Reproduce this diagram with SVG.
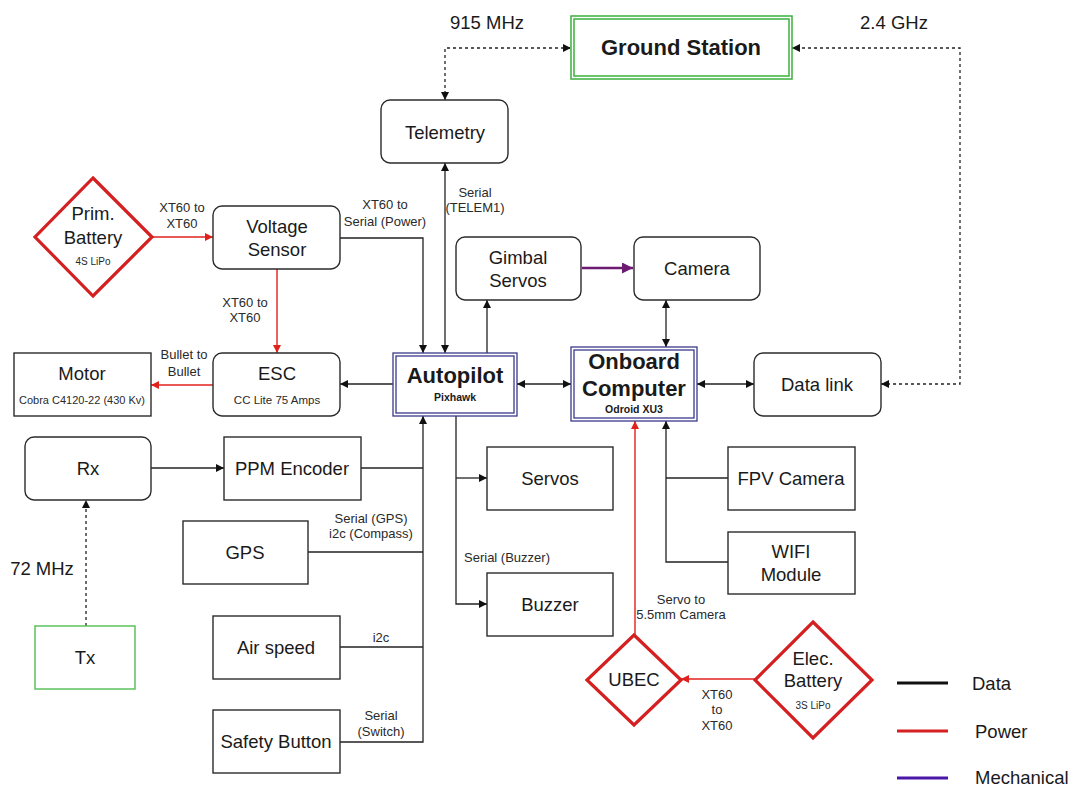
<svg xmlns="http://www.w3.org/2000/svg" width="1073" height="786" viewBox="0 0 1073 786">
<style>
  text { font-family: "Liberation Sans", Arial, sans-serif; fill: #1a1a1a; text-anchor: middle; }
  .t { font-size: 18.5px; }
  .b { font-size: 22px; font-weight: bold; }
  .sb { font-size: 10.5px; font-weight: bold; }
  .s { font-size: 13px; fill: #2a2a2a; }
  .xs { font-size: 11.5px; fill: #2a2a2a; }
  .box { fill: #fff; stroke: #2b2b2b; stroke-width: 1.4; }
  .dia { fill: #fff; stroke: #d42020; stroke-width: 3.2; stroke-linejoin: miter; }
  .blue { fill: none; stroke: #3a3a8c; stroke-width: 1.3; }
  .green { fill: none; stroke: #3bb03b; stroke-width: 1.5; }
  .data { fill: none; stroke: #222; stroke-width: 1.3; }
  .dash { stroke-dasharray: 3 3; }
  .pow { fill: none; stroke: #e0201b; stroke-width: 1.4; }
  .mech { fill: none; stroke: #6d1a72; stroke-width: 2.6; }
</style>
<defs>
  <marker id="ak" viewBox="0 0 10 10" refX="10" refY="5" markerWidth="9" markerHeight="8" markerUnits="userSpaceOnUse" orient="auto-start-reverse">
    <path d="M0,0 L10,5 L0,10 z" fill="#111"/>
  </marker>
  <marker id="ar" viewBox="0 0 10 10" refX="10" refY="5" markerWidth="9" markerHeight="8" markerUnits="userSpaceOnUse" orient="auto-start-reverse">
    <path d="M0,0 L10,5 L0,10 z" fill="#e0201b"/>
  </marker>
  <marker id="ap" viewBox="0 0 10 10" refX="10" refY="5" markerWidth="12" markerHeight="11" markerUnits="userSpaceOnUse" orient="auto-start-reverse">
    <path d="M0,0 L10,5 L0,10 z" fill="#6d1a72"/>
  </marker>
</defs>
<rect width="1073" height="786" fill="#fff"/>

<g id="connectors">
  <path class="data dash" d="M445,100 L445,48 L571,48" marker-start="url(#ak)" marker-end="url(#ak)"/>
  <path class="data dash" d="M881,384 L960,384 L960,48 L792,48" marker-start="url(#ak)" marker-end="url(#ak)"/>
  <path class="data" d="M340,238 L423,238 L423,353" marker-end="url(#ak)"/>
  <path class="data" d="M445,353 L445,163" marker-start="url(#ak)" marker-end="url(#ak)"/>
  <path class="data" d="M487,353 L487,300" marker-end="url(#ak)"/>
  <path class="data" d="M666,300 L666,347" marker-start="url(#ak)" marker-end="url(#ak)"/>
  <path class="data" d="M517,384 L571,384" marker-start="url(#ak)" marker-end="url(#ak)"/>
  <path class="data" d="M697,384 L754,384" marker-start="url(#ak)" marker-end="url(#ak)"/>
  <path class="data" d="M393,384 L340,384" marker-end="url(#ak)"/>
  <path class="data" d="M340,742 L423,742 L423,416" marker-end="url(#ak)"/>
  <path class="data" d="M361,468 L423,468"/>
  <path class="data" d="M308,552 L423,552"/>
  <path class="data" d="M340,647 L423,647"/>
  <path class="data" d="M456,416 L456,604 L487,604" marker-end="url(#ak)"/>
  <path class="data" d="M456,478 L487,478" marker-end="url(#ak)"/>
  <path class="data" d="M151,468 L224,468" marker-end="url(#ak)"/>
  <path class="data dash" d="M86,626 L86,500" marker-end="url(#ak)"/>
  <path class="data" d="M728,562 L666,562 L666,421" marker-end="url(#ak)"/>
  <path class="data" d="M728,478 L666,478"/>
  <path class="pow" d="M152,237 L213,237" marker-end="url(#ar)"/>
  <path class="pow" d="M277,269 L277,353" marker-end="url(#ar)"/>
  <path class="pow" d="M213,385 L151,385" marker-end="url(#ar)"/>
  <path class="pow" d="M635,635 L635,421" marker-end="url(#ar)"/>
  <path class="pow" d="M755,679 L681,679" marker-end="url(#ar)"/>
  <path class="mech" d="M582,268 L633,268" marker-end="url(#ap)"/>

  <text class="t" x="487" y="28.5">915 MHz</text>
  <text class="t" x="894" y="28.5">2.4 GHz</text>
  <text class="s" x="182" y="211.5">XT60 to</text>
  <text class="s" x="182" y="227.5">XT60</text>
  <text class="s" x="385" y="208.5">XT60 to</text>
  <text class="s" x="385" y="225.5">Serial (Power)</text>
  <text class="s" x="475" y="196.5">Serial</text>
  <text class="s" x="475" y="211.5">(TELEM1)</text>
  <text class="s" x="245" y="306.5">XT60 to</text>
  <text class="s" x="245" y="321.5">XT60</text>
  <text class="s" x="184" y="358.5">Bullet to</text>
  <text class="s" x="184" y="375.5">Bullet</text>
  <text class="s" x="371" y="522.5">Serial (GPS)</text>
  <text class="s" x="371" y="537.5">i2c (Compass)</text>
  <text class="s" x="381" y="641.5">i2c</text>
  <text class="s" x="381" y="719.5">Serial</text>
  <text class="s" x="381" y="735.5">(Switch)</text>
  <text class="s" x="507" y="561.5">Serial (Buzzer)</text>
  <text class="s" x="681" y="603.5">Servo to</text>
  <text class="s" x="681" y="618.5">5.5mm Camera</text>
  <text class="s" x="717" y="698.5">XT60</text>
  <text class="s" x="717" y="713.5">to</text>
  <text class="s" x="717" y="729.5">XT60</text>
  <text class="t" x="42" y="574.5">72 MHz</text>
</g>

<g id="ground-station">
  <rect class="green" x="571" y="16" width="221" height="63"/>
  <rect class="green" x="574" y="19" width="215" height="57"/>
  <text class="b" x="681" y="55">Ground Station</text>
</g>
<g id="telemetry">
  <rect class="box" x="381" y="100" width="127" height="63" rx="9"/>
  <text class="t" x="445" y="138.5">Telemetry</text>
</g>
<g id="prim-battery">
  <polygon class="dia" points="93,178 152,237 93,296 35,237"/>
  <text class="t" x="93" y="219.5">Prim.</text>
  <text class="t" x="93" y="243.5">Battery</text>
  <text class="xs" x="93" y="265" style="font-size:10px">4S LiPo</text>
</g>
<g id="voltage-sensor">
  <rect class="box" x="213" y="206" width="127" height="63" rx="9"/>
  <text class="t" x="277" y="232.5">Voltage</text>
  <text class="t" x="277" y="255.5">Sensor</text>
</g>
<g id="motor">
  <rect class="box" x="14" y="353" width="137" height="63"/>
  <text class="t" x="82" y="379.5">Motor</text>
  <text class="xs" x="82" y="404" style="font-size:11px">Cobra C4120-22 (430 Kv)</text>
</g>
<g id="esc">
  <rect class="box" x="213" y="353" width="127" height="63" rx="9"/>
  <text class="t" x="277" y="379.5">ESC</text>
  <text class="xs" x="277" y="404">CC Lite 75 Amps</text>
</g>
<g id="autopilot">
  <rect x="393" y="353" width="124" height="63" fill="#fff"/>
  <rect class="blue" x="393" y="353" width="124" height="63"/>
  <rect class="blue" x="396" y="356" width="118" height="57"/>
  <text class="b" x="455" y="383">Autopilot</text>
  <text class="sb" x="455" y="401">Pixhawk</text>
</g>
<g id="gimbal-servos">
  <rect class="box" x="456" y="237" width="125" height="63" rx="9"/>
  <text class="t" x="518" y="263.5">Gimbal</text>
  <text class="t" x="518" y="286.5">Servos</text>
</g>
<g id="camera">
  <rect class="box" x="634" y="237" width="126" height="63" rx="9"/>
  <text class="t" x="697" y="274.5">Camera</text>
</g>
<g id="onboard-computer">
  <rect x="571" y="347" width="126" height="74" fill="#fff"/>
  <rect class="blue" x="571" y="347" width="126" height="74"/>
  <rect class="blue" x="574" y="350" width="120" height="68"/>
  <text class="b" x="634" y="369">Onboard</text>
  <text class="b" x="634" y="396">Computer</text>
  <text class="sb" x="634" y="413">Odroid XU3</text>
</g>
<g id="data-link">
  <rect class="box" x="754" y="353" width="127" height="63" rx="9"/>
  <text class="t" x="817" y="390.5">Data link</text>
</g>
<g id="rx">
  <rect class="box" x="25" y="437" width="126" height="63" rx="9"/>
  <text class="t" x="88" y="474.5">Rx</text>
</g>
<g id="ppm-encoder">
  <rect class="box" x="224" y="437" width="137" height="63"/>
  <text class="t" x="292" y="474.5">PPM Encoder</text>
</g>
<g id="gps">
  <rect class="box" x="183" y="521" width="125" height="63"/>
  <text class="t" x="245" y="558.5">GPS</text>
</g>
<g id="tx">
  <rect x="35" y="626" width="100" height="63" fill="#fff" stroke="#5cc25c" stroke-width="1.5"/>
  <text class="t" x="85" y="663.5">Tx</text>
</g>
<g id="air-speed">
  <rect class="box" x="213" y="616" width="127" height="63"/>
  <text class="t" x="276" y="653.5">Air speed</text>
</g>
<g id="safety-button">
  <rect class="box" x="213" y="710" width="127" height="63"/>
  <text class="t" x="276" y="747.5">Safety Button</text>
</g>
<g id="servos">
  <rect class="box" x="487" y="447" width="126" height="63"/>
  <text class="t" x="550" y="484.5">Servos</text>
</g>
<g id="buzzer">
  <rect class="box" x="487" y="573" width="126" height="63"/>
  <text class="t" x="550" y="610.5">Buzzer</text>
</g>
<g id="fpv-camera">
  <rect class="box" x="728" y="447" width="127" height="63"/>
  <text class="t" x="791" y="484.5">FPV Camera</text>
</g>
<g id="wifi-module">
  <rect class="box" x="728" y="532" width="127" height="62"/>
  <text class="t" x="791" y="557.5">WIFI</text>
  <text class="t" x="791" y="580.5">Module</text>
</g>
<g id="ubec">
  <polygon class="dia" points="634,635 681,680 634,725 587,680"/>
  <text class="t" x="634" y="686">UBEC</text>
</g>
<g id="elec-battery">
  <polygon class="dia" points="813,622 872,680 813,738 755,680"/>
  <text class="t" x="813" y="664.5">Elec.</text>
  <text class="t" x="813" y="687">Battery</text>
  <text class="xs" x="813" y="709" style="font-size:10px">3S LiPo</text>
</g>
<g id="legend">
  <line x1="897" y1="683" x2="948" y2="683" stroke="#111" stroke-width="3"/>
  <line x1="897" y1="731" x2="948" y2="731" stroke="#d42020" stroke-width="3"/>
  <line x1="897" y1="778" x2="948" y2="778" stroke="#4b17a8" stroke-width="3"/>
  <text class="t" x="972" y="689.5" style="text-anchor:start">Data</text>
  <text class="t" x="975" y="737.5" style="text-anchor:start">Power</text>
  <text class="t" x="975" y="784" style="text-anchor:start">Mechanical</text>
</g>
</svg>
